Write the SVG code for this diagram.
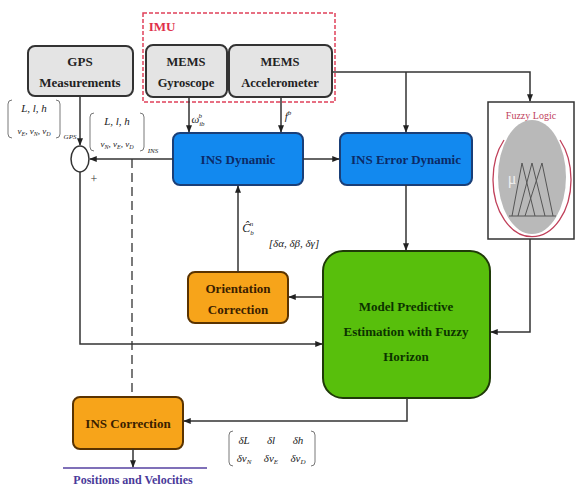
<svg xmlns="http://www.w3.org/2000/svg" width="576" height="492" viewBox="0 0 576 492">
<style>
.t{font-family:"Liberation Serif","Times New Roman",serif;font-weight:bold;text-anchor:middle}
.m{font-family:"Liberation Serif","Times New Roman",serif;font-style:italic;text-anchor:middle;fill:#222}
.grey{fill:#e4e4e4;stroke:#333;stroke-width:2}
.blue{fill:#1289ef;stroke:#1a3f78;stroke-width:2}
.orange{fill:#f7a41a;stroke:#5a3300;stroke-width:2}
.green{fill:#58bf0c;stroke:#1f3a08;stroke-width:2}
.ln{fill:none;stroke:#333;stroke-width:1.5}
</style>
<defs>
<marker id="a" viewBox="0 0 10 10" refX="9" refY="5" markerWidth="5" markerHeight="5" orient="auto"><path d="M0,1 L10,5 L0,9 z" fill="#222"/></marker>
</defs>
<rect width="576" height="492" fill="#fff"/>

<g id="imu">
<rect x="143" y="13" width="192" height="89" fill="none" stroke="#e0405a" stroke-width="1.5" stroke-dasharray="4,2"/>
<text x="162" y="31" class="t" fill="#e0304a" font-size="13">IMU</text>
</g>

<g id="gps">
<rect x="28" y="46" width="105" height="50" rx="7" class="grey"/>
<text x="80" y="66" class="t" fill="#222" font-size="13">GPS</text>
<text x="80" y="87" class="t" fill="#222" font-size="13">Measurements</text>
</g>

<g id="gyro">
<rect x="146" y="45" width="81" height="52" rx="7" class="grey"/>
<text x="186" y="66" class="t" fill="#222" font-size="12.5">MEMS</text>
<text x="186" y="87" class="t" fill="#222" font-size="12.5">Gyroscope</text>
</g>

<g id="accel">
<rect x="229" y="45" width="103" height="52" rx="7" class="grey"/>
<text x="280" y="66" class="t" fill="#222" font-size="12.5">MEMS</text>
<text x="280" y="87" class="t" fill="#222" font-size="12.5">Accelerometer</text>
</g>

<g id="insdyn">
<rect x="173" y="133" width="130" height="52" rx="7" class="blue"/>
<text x="238" y="164" class="t" fill="#0c2a66" font-size="13">INS Dynamic</text>
</g>

<g id="inserr">
<rect x="340" y="133" width="132" height="52" rx="7" class="blue"/>
<text x="406" y="164" class="t" fill="#0c2a66" font-size="13">INS Error Dynamic</text>
</g>

<g id="fuzzy">
<rect x="488" y="102" width="86" height="137" fill="#fff" stroke="#333" stroke-width="1.5"/>
<text x="531" y="119" font-family="Liberation Serif, serif" font-size="10" fill="#c0405a" text-anchor="middle">Fuzzy Logic</text>
<ellipse cx="532" cy="177" rx="34" ry="57" fill="#b9b9b9"/>
<path d="M504,140 A39,57 0 1 0 560,140" fill="none" stroke="#c0405a" stroke-width="1.3"/>
<g fill="none" stroke="#555" stroke-width="1">
<path d="M512,216 L522,163 L535,216"/>
<path d="M518,216 L532,163 L545,216"/>
<path d="M525,216 L542,163 L553,216"/>
<path d="M509,216 L556,216"/>
</g>
<text x="512" y="184" font-family="Liberation Serif, serif" font-size="16" fill="#eee" text-anchor="middle">μ</text>
</g>

<g id="orient">
<rect x="188" y="272" width="100" height="51" rx="7" class="orange"/>
<text x="238" y="293" class="t" fill="#3a2000" font-size="13">Orientation</text>
<text x="238" y="314" class="t" fill="#3a2000" font-size="13">Correction</text>
</g>

<g id="mpe">
<rect x="323" y="251" width="167" height="147" rx="20" class="green"/>
<text x="406" y="311" class="t" fill="#0c3300" font-size="13">Model Predictive</text>
<text x="406" y="336" class="t" fill="#0c3300" font-size="13">Estimation with Fuzzy</text>
<text x="406" y="361" class="t" fill="#0c3300" font-size="13">Horizon</text>
</g>

<g id="inscorr">
<rect x="73" y="397" width="110" height="52" rx="7" class="orange"/>
<text x="128" y="428" class="t" fill="#3a2000" font-size="13">INS Correction</text>
</g>

<g id="sum">
<ellipse cx="80" cy="159" rx="9" ry="13" fill="#fff" stroke="#333" stroke-width="1.5"/>
<text x="94" y="183" font-family="Liberation Serif, serif" font-size="12" fill="#333" text-anchor="middle">+</text>
</g>

<g id="output">
<line x1="63" y1="468" x2="207" y2="468" stroke="#5540a0" stroke-width="1.5"/>
<text x="133" y="484" class="t" fill="#4a3a9a" font-size="12">Positions and Velocities</text>
</g>

<g id="connectors">
<path class="ln" d="M332,72 H530 V101" marker-end="url(#a)"/>
<path class="ln" d="M406,72 V132" marker-end="url(#a)"/>
<path class="ln" d="M189,97 V132" marker-end="url(#a)"/>
<path class="ln" d="M281,97 V132" marker-end="url(#a)"/>
<path class="ln" d="M303,159 H339" marker-end="url(#a)"/>
<path class="ln" d="M173,159 H90" marker-end="url(#a)"/>
<path class="ln" d="M80,96 V145" marker-end="url(#a)"/>
<path class="ln" d="M80,172 V344 H322" marker-end="url(#a)"/>
<path class="ln" d="M406,185 V250" marker-end="url(#a)"/>
<path class="ln" d="M530,239 V332 H491" marker-end="url(#a)"/>
<path class="ln" d="M323,297 H289" marker-end="url(#a)"/>
<path class="ln" d="M238,272 V186" marker-end="url(#a)"/>
<path class="ln" d="M407,398 V421 H184" marker-end="url(#a)"/>
<path class="ln" d="M133,449 V467" marker-end="url(#a)"/>
<path d="M132,159 V396" fill="none" stroke="#333" stroke-width="1.3" stroke-dasharray="9,5"/>
</g>

<g id="labels">
<text x="198" y="123" class="m" font-size="11">ω<tspan font-size="7" dy="3">ib</tspan><tspan font-size="7" dy="-8" dx="-6">b</tspan></text>
<text x="288" y="120" class="m" font-size="11">f<tspan font-size="7" dy="-5">b</tspan></text>
<text x="248" y="232" class="m" font-size="12">Ĉ<tspan font-size="7" dy="3">b</tspan><tspan font-size="7" dy="-9" dx="-4">n</tspan></text>
<text x="294" y="247" class="m" font-size="11">[δα, δβ, δγ]</text>

<path d="M12,100 Q8,100 8,104 V134 Q8,138 12,138" fill="none" stroke="#555" stroke-width="0.8"/>
<path d="M56,100 Q60,100 60,104 V134 Q60,138 56,138" fill="none" stroke="#555" stroke-width="0.8"/>
<text x="34" y="112" class="m" font-size="11">L, l, h</text>
<text x="34" y="134" class="m" font-size="9">v<tspan font-size="6" dy="2">E</tspan><tspan dy="-2">, v</tspan><tspan font-size="6" dy="2">N</tspan><tspan dy="-2">, v</tspan><tspan font-size="6" dy="2">D</tspan></text>
<text x="70" y="139" class="m" font-size="7">GPS</text>

<path d="M94,113 Q90,113 90,117 V147 Q90,151 94,151" fill="none" stroke="#555" stroke-width="0.8"/>
<path d="M140,113 Q144,113 144,117 V147 Q144,151 140,151" fill="none" stroke="#555" stroke-width="0.8"/>
<text x="117" y="125" class="m" font-size="11">L, l, h</text>
<text x="117" y="147" class="m" font-size="9">v<tspan font-size="6" dy="2">N</tspan><tspan dy="-2">, v</tspan><tspan font-size="6" dy="2">E</tspan><tspan dy="-2">, v</tspan><tspan font-size="6" dy="2">D</tspan></text>
<text x="153" y="153" class="m" font-size="7">INS</text>

<path d="M233,431 Q229,431 229,435 V462 Q229,466 233,466" fill="none" stroke="#555" stroke-width="0.8"/>
<path d="M311,431 Q315,431 315,435 V462 Q315,466 311,466" fill="none" stroke="#555" stroke-width="0.8"/>
<text x="244" y="444" class="m" font-size="11">δL</text>
<text x="271" y="444" class="m" font-size="11">δl</text>
<text x="298" y="444" class="m" font-size="11">δh</text>
<text x="244" y="462" class="m" font-size="11">δv<tspan font-size="7" dy="2">N</tspan></text>
<text x="271" y="462" class="m" font-size="11">δv<tspan font-size="7" dy="2">E</tspan></text>
<text x="298" y="462" class="m" font-size="11">δv<tspan font-size="7" dy="2">D</tspan></text>
</g>
</svg>
